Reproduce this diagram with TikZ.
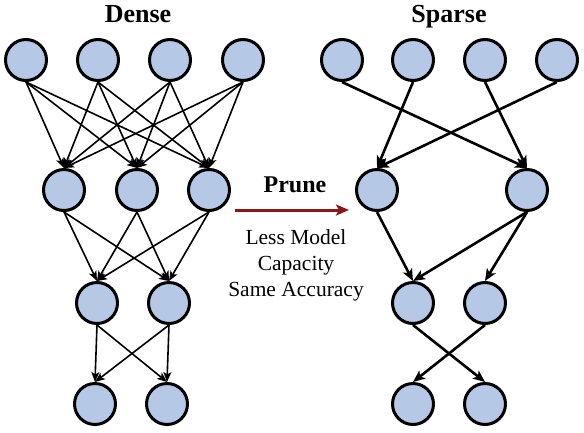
\documentclass[tikz,border=0pt]{standalone}
\usepackage{fontspec}
\setmainfont{Liberation Serif}
\usetikzlibrary{arrows.meta}
\definecolor{cellblue}{RGB}{181,201,230}
\definecolor{prunered}{RGB}{139,24,24}
\tikzset{
  unit/.style={circle,draw,fill=cellblue,line width=3pt,minimum size=41pt,inner sep=0pt},
  densearrow/.style={-{Stealth[length=10pt,width=8pt,inset=2.5pt]},line width=1.6pt},
  sparsearrow/.style={-{Stealth[length=12pt,width=10pt,inset=3pt]},line width=2.6pt},
  title/.style={anchor=base,font=\bfseries\fontsize{26}{30}\selectfont},
  note/.style={anchor=base,font=\fontsize{21.5}{25}\selectfont},
}
\begin{document}
\begin{tikzpicture}[x=1pt,y=-1pt]
	\useasboundingbox (0,0) rectangle (584,432);
	%titles
	\node[title] (densetitle) at (138,22) {Dense};
	\node[title] (sparsetitle) at (449,22) {Sparse};

	%dense units
	\node[unit] (d11) at (26,60) {}; \node[unit] (d12) at (98,60) {};
	\node[unit] (d13) at (170,60) {}; \node[unit] (d14) at (243,60) {};
	\node[unit] (d21) at (64,190) {}; \node[unit] (d22) at (137,190) {}; \node[unit] (d23) at (209,190) {};
	\node[unit] (d31) at (97,303) {}; \node[unit] (d32) at (169,303) {};
	\node[unit] (d41) at (95,404) {}; \node[unit] (d42) at (167,404) {};

	%sparse units
	\node[unit] (s11) at (342,60) {}; \node[unit] (s12) at (413,60) {};
	\node[unit] (s13) at (485,60) {}; \node[unit] (s14) at (557,60) {};
	\node[unit] (s21) at (377,190) {}; \node[unit] (s22) at (527,190) {};
	\node[unit] (s31) at (413,303) {}; \node[unit] (s32) at (485,303) {};
	\node[unit] (s41) at (413,404) {}; \node[unit] (s42) at (485,404) {};

	%dense connections
	\draw[densearrow] (d11.south) -- (d21.north); \draw[densearrow] (d11.south) -- (d22.north); \draw[densearrow] (d11.south) -- (d23.north);
	\draw[densearrow] (d12.south) -- (d21.north); \draw[densearrow] (d12.south) -- (d22.north); \draw[densearrow] (d12.south) -- (d23.north);
	\draw[densearrow] (d13.south) -- (d21.north); \draw[densearrow] (d13.south) -- (d22.north); \draw[densearrow] (d13.south) -- (d23.north);
	\draw[densearrow] (d14.south) -- (d21.north); \draw[densearrow] (d14.south) -- (d22.north); \draw[densearrow] (d14.south) -- (d23.north);
	\draw[densearrow] (d21.south) -- (d31.north); \draw[densearrow] (d21.south) -- (d32.north);
	\draw[densearrow] (d22.south) -- (d31.north); \draw[densearrow] (d22.south) -- (d32.north);
	\draw[densearrow] (d23.south) -- (d31.north); \draw[densearrow] (d23.south) -- (d32.north);
	\draw[densearrow] (d31.south) -- (d41.north); \draw[densearrow] (d31.south) -- (d42.north);
	\draw[densearrow] (d32.south) -- (d41.north); \draw[densearrow] (d32.south) -- (d42.north);

	%sparse connections
	\draw[sparsearrow] (s11.south) -- (s22.north);
	\draw[sparsearrow] (s12.south) -- (s21.north);
	\draw[sparsearrow] (s13.south) -- (s22.north);
	\draw[sparsearrow] (s14.south) -- (s21.north);
	\draw[sparsearrow] (s21.south) -- (s31.north);
	\draw[sparsearrow] (s22.south) -- (s31.north);
	\draw[sparsearrow] (s22.south) -- (s32.north);
	\draw[sparsearrow] (s31.south) -- (s42.north);
	\draw[sparsearrow] (s32.south) -- (s41.north);

	%prune arrow and labels
	\coordinate (prunestart) at (235,210);
	\coordinate (pruneend) at (349,210);
	\draw[prunered,line width=3pt,-{Stealth[length=13pt,width=11pt,inset=3pt]}] (prunestart) -- (pruneend);
	\node[anchor=base,font=\bfseries\fontsize{24}{28}\selectfont] (prune) at (295,192) {Prune};
	\node[note] (lessmodel) at (296,244) {Less Model};
	\node[note] (capacity) at (296,270) {Capacity};
	\node[note] (sameacc) at (296,296) {Same Accuracy};
\end{tikzpicture}
\end{document}
